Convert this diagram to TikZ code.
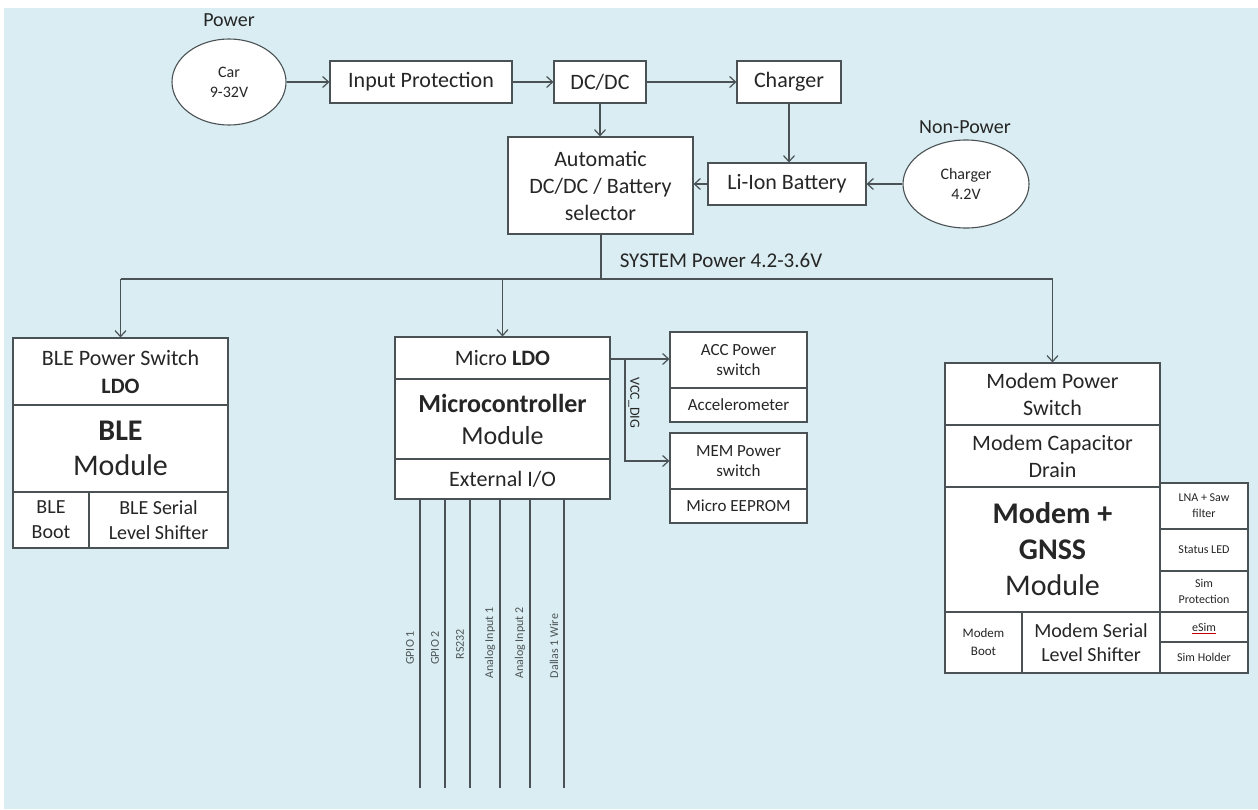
\documentclass[tikz,border=0pt]{standalone}
\usepackage{fontspec}
\setmainfont{Carlito}
\usetikzlibrary{shapes.geometric,arrows.meta}
\definecolor{bg}{HTML}{DAEDF2}
\definecolor{ln}{HTML}{4A5255}
\definecolor{tx}{HTML}{262626}
\definecolor{lbl}{HTML}{4E5658}
\newcommand\fsz[2]{\fontsize{#1}{#2}\selectfont}
\begin{document}
\begin{tikzpicture}[x=1pt,y=-1pt,
  cell/.style={draw=ln, fill=white, line width=1.1pt, inner sep=0pt, align=center, text=tx},
  oval/.style={ellipse, draw=ln, fill=white, line width=1.1pt, inner sep=0pt, align=center, text=tx},
  conn/.style={draw=ln, line width=1.2pt},
  arr/.style={conn, -{Straight Barb[length=6pt,width=11pt]}},
  lab/.style={text=tx, inner sep=0pt},
  iolab/.style={text=lbl, inner sep=0pt, rotate=90, font=\fsz{12}{14}},
  main/.style={font=\fsz{22}{27}},
  side/.style={font=\fsz{17}{20}},
  tiny/.style={font=\fsz{12}{16}}]
\useasboundingbox (0,0) rectangle (1258,809);
\fill[white] (0,0) rectangle (1258,809);
\fill[bg] (4,8) rectangle (1258,809);

% ---- top power chain
\node[lab, font=\fsz{20}{24}] (plab) at (229,20) {Power};
\node[oval, minimum width=114, minimum height=86, font=\fsz{16}{20}] (car) at (229,82) {Car\\9-32V};
\node[cell, main, minimum width=182, minimum height=42] (ip) at (421,82) {Input Protection};
\node[cell, main, minimum width=92, minimum height=42] (dcdc) at (600,82) {DC/DC};
\node[cell, main, minimum width=104, minimum height=42] (chg) at (789,82) {Charger};
\node[cell, main, minimum width=185, minimum height=97] (sel) at (600.5,185.5) {Automatic\\DC/DC / Battery\\selector};
\node[cell, main, minimum width=158, minimum height=42] (li) at (787,184) {Li-Ion Battery};
\node[lab, font=\fsz{20}{24}] (nplab) at (965,127) {Non-Power};
\node[oval, minimum width=126, minimum height=88, font=\fsz{16}{20}] (chell) at (966,184) {Charger\\4.2V};

\draw[arr] (car) -- (ip);
\draw[arr] (ip) -- (dcdc);
\draw[arr] (dcdc) -- (chg);
\draw[arr] (dcdc.south) -- (dcdc.south |- sel.north);
\draw[arr] (chg.south) -- (chg.south |- li.north);
\draw[arr] (li.west) -- (li.west -| sel.east);
\draw[arr] (chell.west) -- (li.east);

% ---- system bus
\coordinate (busM) at (601,279);
\coordinate (busL) at (120.5,279);
\coordinate (busR) at (1052.5,279);
\draw[conn] (sel.south -| busM) -- (busM);
\draw[conn] (busL) -- (busR);
\node[lab, font=\fsz{21}{25}] (syslab) at (721,260) {SYSTEM Power 4.2-3.6V};

% ---- BLE
\node[cell, minimum width=215, minimum height=67, font=\fsz{22}{28}] (ble1) at (120.5,371.5) {BLE Power Switch\\\textbf{LDO}};
\node[cell, minimum width=215, minimum height=87, font=\fsz{30}{35}] (ble2) at (120.5,448.5) {\textbf{BLE}\\Module};
\node[cell, minimum width=76, minimum height=56, font=\fsz{20}{25}] (ble3) at (51,520) {BLE\\Boot};
\node[cell, minimum width=139, minimum height=56, font=\fsz{20}{25}] (ble4) at (158.5,520) {BLE Serial\\Level Shifter};
\draw[arr] (busL) -- (ble1.north);

% ---- Microcontroller
\node[cell, main, minimum width=215, minimum height=42] (m1) at (502.5,358) {Micro \textbf{LDO}};
\node[cell, minimum width=215, minimum height=80, font=\fsz{26}{32}] (m2) at (502.5,419) {\textbf{Microcontroller}\\Module};
\node[cell, main, minimum width=215, minimum height=40] (m3) at (502.5,479) {External I/O};
\draw[arr] (busL -| m1.north) -- (m1.north);

\node[cell, side, minimum width=137, minimum height=56] (a1) at (738.5,360) {ACC Power\\switch};
\node[cell, side, minimum width=137, minimum height=34] (a2) at (738.5,405) {Accelerometer};
\node[cell, side, minimum width=137, minimum height=56] (e1) at (738.5,461) {MEM Power\\switch};
\node[cell, side, minimum width=137, minimum height=34] (e2) at (738.5,506) {Micro EEPROM};
\coordinate (br) at (625,359);
\draw[arr] (m1.east |- br) -- (br -| a1.west);
\draw[arr] (br) |- (e1.west);
\node[lab, rotate=-90, font=\fsz{14}{16}] (vcc) at (634,403) {VCC\_DIG};

% ---- external I/O lines
\foreach \n/\x/\t/\y in {1/420/GPIO 1/648, 2/445/GPIO 2/648, 3/470/RS232/644, 4/500/Analog Input 1/643, 5/530/Analog Input 2/643, 6/564/Dallas 1 Wire/646}{
  \coordinate (io\n) at (\x,788);
  \draw[conn] (io\n |- m3.south) -- (io\n);
  \node[iolab] (iol\n) at (\x-10,\y) {\t};
}

% ---- Modem
\node[cell, main, minimum width=215, minimum height=62] (md1) at (1052.5,394) {Modem Power\\Switch};
\node[cell, main, minimum width=215, minimum height=62] (md2) at (1052.5,456) {Modem Capacitor\\Drain};
\node[cell, minimum width=215, minimum height=125, font=\fsz{30}{36}] (md3) at (1052.5,549.5) {\textbf{Modem +}\\\textbf{GNSS}\\Module};
\node[cell, minimum width=77, minimum height=61, font=\fsz{13}{18}] (md4) at (983.5,642.5) {Modem\\Boot};
\node[cell, minimum width=138, minimum height=61, font=\fsz{20}{24}] (md5) at (1091,642.5) {Modem Serial\\Level Shifter};
\node[cell, tiny, minimum width=88, minimum height=46] (s1) at (1204,506) {LNA + Saw\\filter};
\node[cell, tiny, minimum width=88, minimum height=42] (s2) at (1204,550) {Status LED};
\node[cell, tiny, minimum width=88, minimum height=41] (s3) at (1204,591.5) {Sim\\Protection};
\node[cell, tiny, minimum width=88, minimum height=30] (s4) at (1204,627) {eSim};
\node[cell, tiny, minimum width=88, minimum height=31] (s5) at (1204,657.5) {Sim Holder};
\draw[red!75!black, line width=0.7pt] ([xshift=-12pt,yshift=-6pt]s4.center) -- ([xshift=12pt,yshift=-6pt]s4.center);
\draw[arr] (busR) -- (md1.north);
\end{tikzpicture}
\end{document}
